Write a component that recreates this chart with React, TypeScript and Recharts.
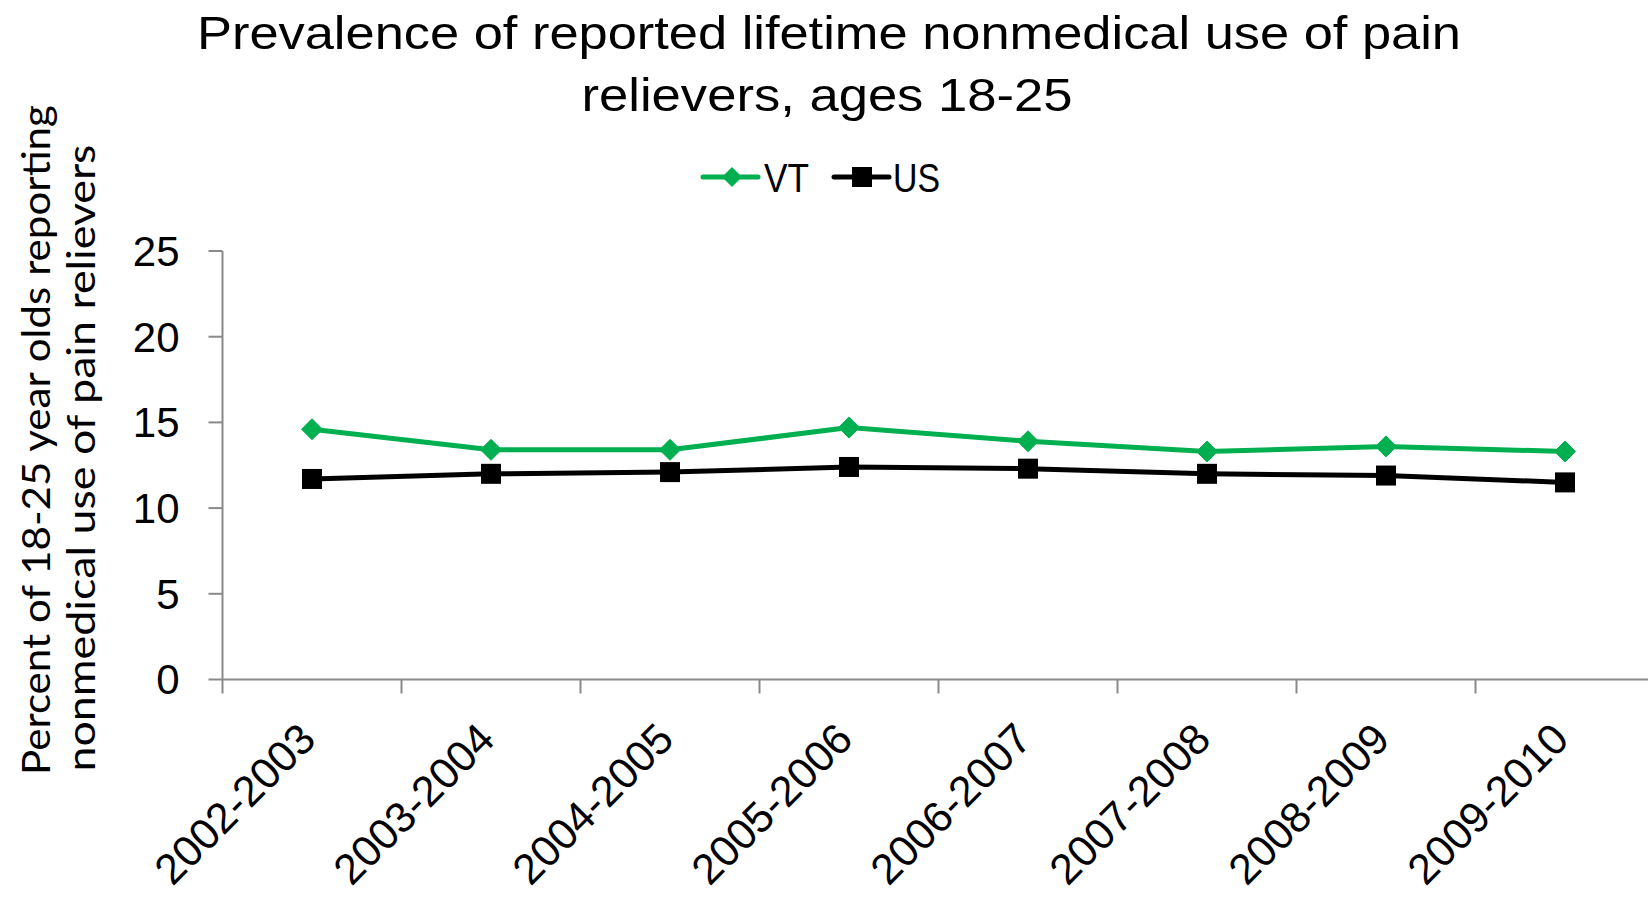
import React from 'react';
import { LineChart, Line, XAxis, YAxis, Legend } from 'recharts';

const categories = [
  '2002-2003',
  '2003-2004',
  '2004-2005',
  '2005-2006',
  '2006-2007',
  '2007-2008',
  '2008-2009',
  '2009-2010',
];
const vtValues = [14.6, 13.4, 13.4, 14.7, 13.9, 13.3, 13.6, 13.3];
const usValues = [11.7, 12.0, 12.1, 12.4, 12.3, 12.0, 11.9, 11.5];
const yTicks = [0, 5, 10, 15, 20, 25];

const titleLines = ['Prevalence of reported lifetime nonmedical use of pain', 'relievers, ages 18-25'];
const yTitleLines = ['Percent of 18-25 year olds reporting', 'nonmedical use of pain relievers'];

const data = categories.map((c, i) => ({ x: i + 0.5, cat: c, VT: vtValues[i], US: usValues[i] }));
const boundaryTicks = categories.map((_, i) => i).concat([categories.length]);
const centerTicks = categories.map((_, i) => i + 0.5);

const GREEN = '#00B050';
const AXIS = '#898989';
const FONT = '"Liberation Sans", Arial, sans-serif';
const YFONT = 'Lato, "Open Sans", sans-serif';

const W = 1660;
const H = 897;

const DiamondDot = (props: any) => {
  const { cx, cy, index } = props;
  if (cx == null || cy == null) return <g key={`vd-${index}`} />;
  const r = 10.5;
  return (
    <path
      key={`vd-${index}`}
      d={`M${cx},${cy - r} L${cx + r},${cy} L${cx},${cy + r} L${cx - r},${cy} Z`}
      fill={GREEN}
      stroke={GREEN}
      strokeWidth={1}
    />
  );
};

const SquareDot = (props: any) => {
  const { cx, cy, index } = props;
  if (cx == null || cy == null) return <g key={`us-${index}`} />;
  const s = 20;
  return <rect key={`us-${index}`} x={cx - s / 2} y={cy - s / 2} width={s} height={s} fill="#000" />;
};

const XTick = (props: any) => {
  const { x, y, payload } = props;
  const idx = Math.round(payload.value - 0.5);
  const ax = x + 6;
  const ay = y + 61;
  return (
    <text
      x={ax}
      y={ay}
      transform={`rotate(-45 ${ax} ${ay})`}
      textAnchor="end"
      fontSize={43}
      fontFamily={FONT}
      fill="#000"
    >
      {categories[idx]}
    </text>
  );
};

const EmptyTick = () => <g />;

const renderLegend = () => (
  <div style={{ height: 0, position: 'relative' }}>
    <svg
      width={W}
      height={10}
      style={{ position: 'absolute', left: 0, top: 0, overflow: 'visible' }}
    >
      <line x1={703} x2={758} y1={177} y2={177} stroke={GREEN} strokeWidth={5} strokeLinecap="round" />
      <path d="M732,167 L742,177 L732,187 L722,177 Z" fill={GREEN} />
      <text x={764} y={192} fontSize={41} fontFamily={FONT} fill="#000" textLength={45} lengthAdjust="spacingAndGlyphs">
        VT
      </text>
      <line x1={834} x2={889} y1={177} y2={177} stroke="#000" strokeWidth={5} strokeLinecap="round" />
      <rect x={852} y={167} width={20} height={20} fill="#000" />
      <text x={893} y={192} fontSize={41} fontFamily={FONT} fill="#000" textLength={47} lengthAdjust="spacingAndGlyphs">
        US
      </text>
    </svg>
  </div>
);

export default function App() {
  return (
    <div
      style={{
        position: 'absolute',
        left: 0,
        top: 0,
        width: 1648,
        height: 897,
        overflow: 'hidden',
        background: '#fff',
      }}
    >
      <LineChart
        width={W}
        height={H}
        data={data}
        margin={{ top: 251, right: 5.5, bottom: 215.5, left: 221.5 }}
      >
        <text x={829} y={49} textAnchor="middle" fontSize={47} fontFamily={FONT} fill="#000" textLength={1264} lengthAdjust="spacingAndGlyphs">
          {titleLines[0]}
        </text>
        <text x={827} y={111} textAnchor="middle" fontSize={47} fontFamily={FONT} fill="#000" textLength={491} lengthAdjust="spacingAndGlyphs">
          {titleLines[1]}
        </text>
        <text x={50} y={440} transform="rotate(-90 50 440)" textAnchor="middle" fontSize={38} fontFamily={YFONT} fill="#000" textLength={670} lengthAdjust="spacingAndGlyphs">
          {yTitleLines[0]}
        </text>
        <text x={95} y={458} transform="rotate(-90 95 458)" textAnchor="middle" fontSize={38} fontFamily={YFONT} fill="#000" textLength={627} lengthAdjust="spacingAndGlyphs">
          {yTitleLines[1]}
        </text>
        <XAxis
          xAxisId="grid"
          type="number"
          dataKey="x"
          domain={[0, categories.length]}
          ticks={boundaryTicks}
          interval={0}
          tick={EmptyTick}
          tickSize={14}
          height={1}
          axisLine={{ stroke: AXIS, strokeWidth: 2 }}
          tickLine={{ stroke: AXIS, strokeWidth: 2 }}
        />
        <XAxis
          xAxisId="lab"
          type="number"
          dataKey="x"
          domain={[0, categories.length]}
          ticks={centerTicks}
          interval={0}
          tick={XTick}
          tickSize={0}
          tickMargin={0}
          tickLine={false}
          axisLine={false}
          height={1}
        />
        <YAxis
          type="number"
          domain={[0, 25]}
          ticks={yTicks}
          interval={0}
          width={1}
          tickSize={14}
          tickMargin={29}
          axisLine={{ stroke: AXIS, strokeWidth: 2 }}
          tickLine={{ stroke: AXIS, strokeWidth: 2 }}
          tick={{ fontSize: 42, fill: '#000', fontFamily: FONT }}
        />
        <Legend
          verticalAlign="top"
          content={renderLegend}
          wrapperStyle={{ position: 'absolute', top: 0, left: 0, width: W, height: 0 }}
        />
        <Line
          xAxisId="grid"
          type="linear"
          dataKey="VT"
          stroke={GREEN}
          strokeWidth={5}
          dot={DiamondDot}
          activeDot={false}
          isAnimationActive={false}
        />
        <Line
          xAxisId="grid"
          type="linear"
          dataKey="US"
          stroke="#000"
          strokeWidth={5}
          dot={SquareDot}
          activeDot={false}
          isAnimationActive={false}
        />
      </LineChart>
    </div>
  );
}
